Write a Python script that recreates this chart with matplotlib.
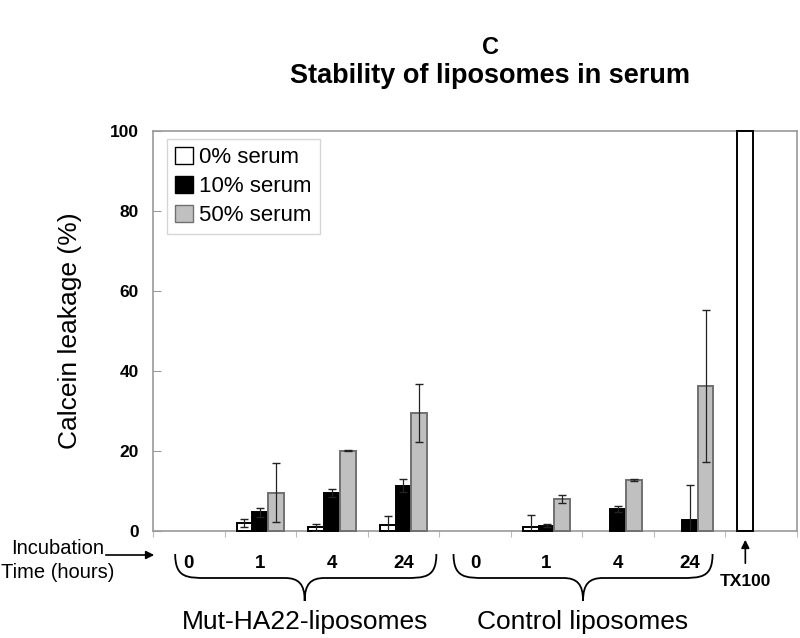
import matplotlib
matplotlib.use("Agg")
import matplotlib.pyplot as plt
import matplotlib.transforms as mtransforms
from matplotlib.path import Path
from matplotlib.patches import PathPatch, FancyArrowPatch
import numpy as np

plt.rcParams['font.family'] = ['Liberation Sans', 'DejaVu Sans']

# ---- data ----
categories = ["0", "1", "4", "24", "0", "1", "4", "24", "TX100"]
series = ["0% serum", "10% serum", "50% serum"]
serum0 = [0, 1.9, 0.9, 1.6, 0, 1.1, 0.1, 0, 100]
serum0_err = [0, 1.0, 0.8, 2.1, 0, 2.8, 0, 0, 0]
serum10 = [0, 4.7, 9.4, 11.3, 0, 1.3, 5.5, 2.7, 0]
serum10_err = [0, 1.1, 1.0, 1.6, 0, 0.4, 0.75, 8.7, 0]
serum50 = [0, 9.6, 20.1, 29.5, 0, 8.1, 12.7, 36.3, 0]
serum50_err = [0, 7.3, 0.2, 7.2, 0, 1.0, 0.3, 19.0, 0]
groups = ["Mut-HA22-liposomes", "Control liposomes"]
yticks = [0, 20, 40, 60, 80, 100]

fig = plt.figure(figsize=(8, 6.38), dpi=100)
ax = fig.add_axes([153/800, 107/638, 644/800, 400/638])

x = np.arange(len(categories))
w = 0.222
vals = [serum0, serum10, serum50]
errs = [serum0_err, serum10_err, serum50_err]
faces = ["white", "black", "#c0c0c0"]
edges = ["black", "black", "#707070"]
for k in range(3):
    lws = [1.4 if v > 0.5 else 0.0 for v in vals[k]]
    ax.bar(x + (k - 1) * w, vals[k], width=w, color=faces[k], edgecolor=edges[k],
           linewidth=lws, label=series[k], zorder=3, clip_on=False)
    xe, ye, ee = [], [], []
    for i in range(len(x)):
        if errs[k][i] > 0:
            xe.append(x[i] + (k - 1) * w); ye.append(vals[k][i]); ee.append(errs[k][i])
    ax.errorbar(xe, ye, yerr=ee, fmt='none', ecolor='#222222', elinewidth=0.9,
                capsize=3, capthick=1.0, zorder=4)

ax.set_xlim(-0.5, len(categories) - 0.5)
ax.set_ylim(0, 100)
ax.set_yticks(yticks)
ax.set_yticklabels([str(v) for v in yticks], fontsize=12.5, fontweight='bold')
ax.set_xticks(np.arange(len(categories) + 1) - 0.5)
ax.set_xticklabels([])
ax.tick_params(axis='y', direction='in', length=6, color='#999999', pad=10)
ax.tick_params(axis='x', direction='out', length=4, color='#bbbbbb')
for s in ax.spines.values():
    s.set_color('#999999')
    s.set_linewidth(1.2)
ax.set_ylabel("Calcein leakage (%)", fontsize=19, labelpad=20)

leg = ax.legend(loc='upper left', bbox_to_anchor=(0.022, 0.98), borderaxespad=0,
                fontsize=16, frameon=True, fancybox=False, handlelength=0.8,
                handleheight=0.8, handletextpad=0.3, labelspacing=0.35,
                borderpad=0.35)
leg.get_frame().set_edgecolor('#cccccc')
leg.get_frame().set_linewidth(1.0)
for h in leg.legend_handles:
    h.set_linewidth(1.0)

# titles
fig.text(490/800, 1 - 48/638, "C", ha='center', va='center', fontsize=17, fontweight='bold')
fig.text(490/800, 1 - 76/638, "Stability of liposomes in serum", ha='center', va='center',
         fontsize=19.5, fontweight='bold')

# overlay in pixel coordinates for annotations
ov = fig.add_axes([0, 0, 1, 1], facecolor='none')
ov.set_xlim(0, 800)
ov.set_ylim(638, 0)
ov.axis('off')
bt = mtransforms.blended_transform_factory(ax.transData, ov.transData)

# time labels
for i, c in enumerate(categories[:-1]):
    ov.text(x[i], 563, c, transform=bt, ha='center', va='center', fontsize=13.5, fontweight='bold')

ov.text(58, 548, "Incubation", ha='center', va='center', fontsize=14.5)
ov.text(58, 573, "Time (hours)", ha='center', va='center', fontsize=14.5)
ov.add_patch(FancyArrowPatch((103, 555), (157, 555), arrowstyle='-|>', mutation_scale=12,
                             color='black', lw=1.2))

# TX100 arrow and label
txx = x[-1] - w
ov.add_patch(FancyArrowPatch((txx, 566), (txx, 537), transform=bt, arrowstyle='-|>',
                             mutation_scale=12, color='black', lw=1.2))
ov.text(txx, 581, "TX100", transform=bt, ha='center', va='center', fontsize=12.5, fontweight='bold')

def brace(xl, xr, xc, ytop=554, ymid=578, ytip=601):
    def px(v):
        return ax.transData.transform((v, 0))[0] * 800 / fig.bbox.width
    L, R, C = px(xl), px(xr), px(xc)
    verts = [(L, ytop), (L, ymid), (L + 12, ymid), (L + 32, ymid),
             (C - 20, ymid),
             (C - 6, ymid), (C, ymid + 6), (C, ytip),
             (C, ymid + 6), (C + 6, ymid), (C + 20, ymid),
             (R - 32, ymid),
             (R - 12, ymid), (R, ymid), (R, ytop)]
    codes = [Path.MOVETO, Path.CURVE4, Path.CURVE4, Path.CURVE4,
             Path.LINETO,
             Path.CURVE4, Path.CURVE4, Path.CURVE4,
             Path.CURVE4, Path.CURVE4, Path.CURVE4,
             Path.LINETO,
             Path.CURVE4, Path.CURVE4, Path.CURVE4]
    ov.add_patch(PathPatch(Path(verts, codes), facecolor='none', edgecolor='black', lw=1.3))
    return C

c1 = brace(-0.19, 3.46, 1.62)
c2 = brace(3.70, 7.32, 5.51)
ov.text(c1, 622, groups[0], ha='center', va='center', fontsize=19)
ov.text(c2, 622, groups[1], ha='center', va='center', fontsize=19)

fig.savefig("out.png", dpi=100)
